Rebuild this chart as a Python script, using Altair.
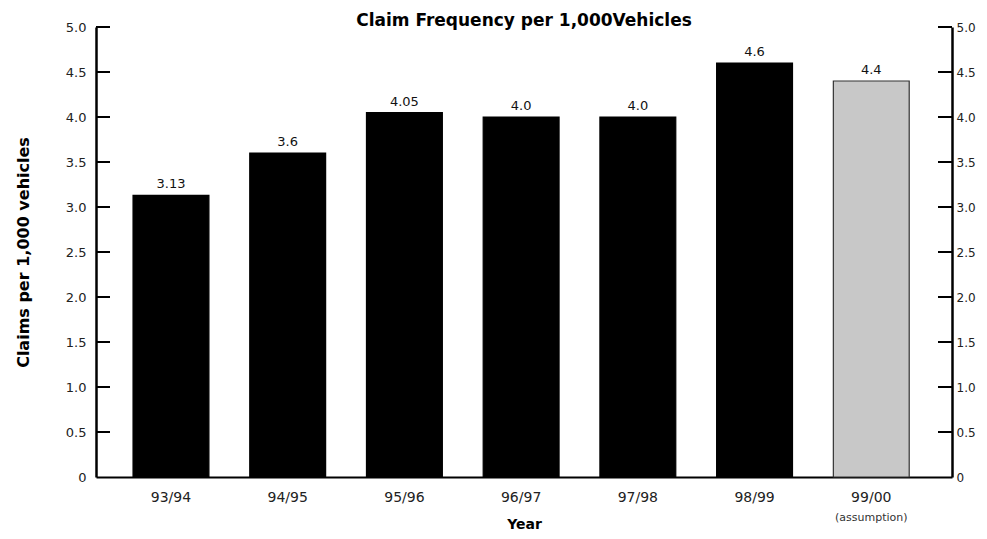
import altair as alt
import pandas as pd

years = ["93/94", "94/95", "95/96", "96/97", "97/98", "98/99", "99/00"]
values = [3.13, 3.6, 4.05, 4.0, 4.0, 4.6, 4.4]
value_labels = ["3.13", "3.6", "4.05", "4.0", "4.0", "4.6", "4.4"]
kinds = ["actual", "actual", "actual", "actual", "actual", "actual", "assumption"]
tick_values = [0, 0.5, 1.0, 1.5, 2.0, 2.5, 3.0, 3.5, 4.0, 4.5, 5.0]
inner_ticks = [0.5, 1.0, 1.5, 2.0, 2.5, 3.0, 3.5, 4.0, 4.5, 5.0]
note_year = ["99/00"]
note_text = ["(assumption)"]

W, H = 856, 450
FONT = "DejaVu Sans"

df = pd.DataFrame({"Year": years, "value": values, "label": value_labels, "kind": kinds})
ticks_df = pd.DataFrame({"value": inner_ticks})
note_df = pd.DataFrame({"Year": note_year, "note": note_text})

label_expr = "datum.value == 0 ? '0' : format(datum.value, '.1f')"

xscale = alt.Scale(domain=years, paddingInner=0.35, paddingOuter=0.342, align=0.464)
yscale = alt.Scale(domain=[0, 5], nice=False)

x_enc = alt.X("Year:N", sort=years, scale=xscale,
              axis=alt.Axis(title="Year", ticks=False, labelAngle=0, labelPadding=13,
                            labelFontSize=14, labelColor="#222", domainColor="black",
                            domainWidth=2, titleFontSize=14, titleFontWeight="bold",
                            titlePadding=13, titleColor="black", labelFont=FONT, titleFont=FONT))

y_left = alt.Y("value:Q", scale=yscale,
               axis=alt.Axis(title="Claims per 1,000 vehicles", orient="left", values=tick_values,
                             labelExpr=label_expr, tickSize=0, domainColor="black", domainWidth=2.5,
                             labelPadding=10, labelFontSize=13, labelColor="#222", grid=False,
                             titleFontSize=16, titleFontWeight="bold", titleColor="black",
                             titlePadding=34, labelFont=FONT, titleFont=FONT))

bars = alt.Chart(df).mark_bar(strokeWidth=1.2).encode(
    x=x_enc,
    y=y_left,
    color=alt.Color("kind:N", scale=alt.Scale(domain=["actual", "assumption"],
                                               range=["#000000", "#c8c8c8"]), legend=None),
    stroke=alt.Stroke("kind:N", scale=alt.Scale(domain=["actual", "assumption"],
                                                 range=["#000000", "#333333"]), legend=None),
)

texts = alt.Chart(df).mark_text(baseline="bottom", dy=-4, fontSize=13, font=FONT, color="#111").encode(
    x=alt.X("Year:N", sort=years, scale=xscale),
    y=alt.Y("value:Q", scale=yscale),
    text="label:N",
)

note = alt.Chart(note_df).mark_text(baseline="middle", fontSize=11, font=FONT, color="#333").encode(
    x=alt.X("Year:N", sort=years, scale=xscale),
    y=alt.value(H + 41),
    text="note:N",
)

left_ticks = alt.Chart(ticks_df).mark_rule(color="black", strokeWidth=2).encode(
    y=alt.Y("value:Q", scale=yscale),
    x=alt.value(0),
    x2=alt.value(14),
)

inner = alt.layer(bars, texts, note, left_ticks)

right_ticks = alt.Chart(ticks_df).mark_rule(color="black", strokeWidth=2).encode(
    y=alt.Y("value:Q", scale=yscale,
            axis=alt.Axis(title=None, orient="right", values=tick_values, labelExpr=label_expr,
                          tickSize=0, domainColor="black", domainWidth=2.5, labelPadding=4,
                          labelFontSize=12, labelColor="#222", grid=False, labelFont=FONT)),
    x=alt.value(W - 14),
    x2=alt.value(W),
)

chart = alt.layer(inner, right_ticks).resolve_scale(y="independent").properties(
    width=W,
    height=H,
    background="white",
    title=alt.TitleParams("Claim Frequency per 1,000Vehicles", fontSize=17, fontWeight="bold",
                          font=FONT, color="black", offset=2, dy=11, anchor="middle"),
    autosize=alt.AutoSizeParams(type="none"),
    padding={"left": 88, "top": 19, "right": 27, "bottom": 54},
).configure_view(stroke=None)

chart.save("out.html", embed_options={"renderer": "svg", "actions": False})
